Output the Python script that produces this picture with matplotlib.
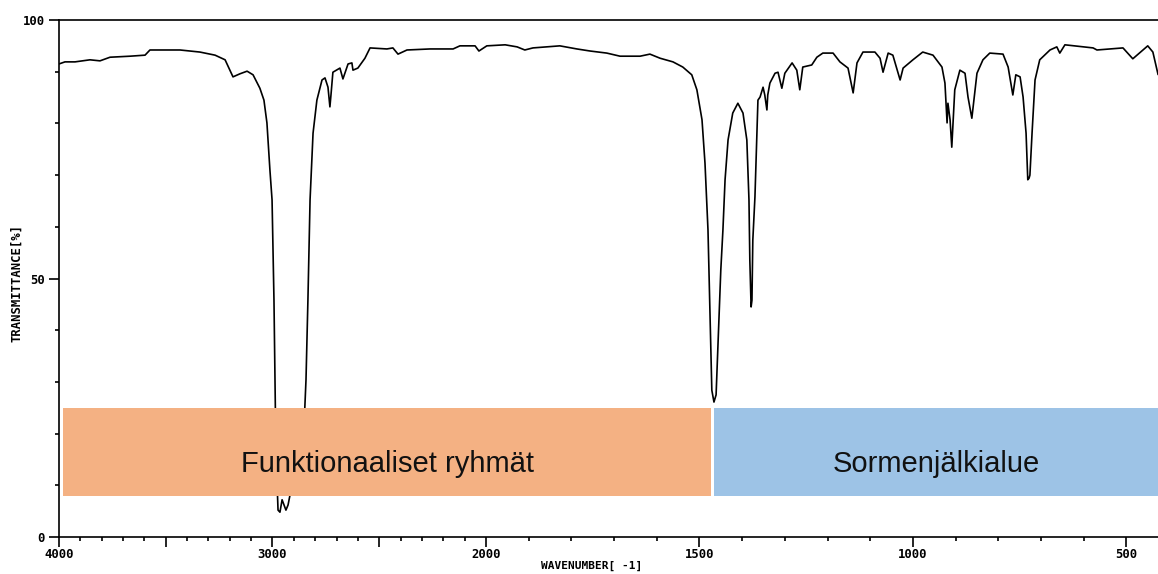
import numpy as np
import matplotlib
matplotlib.use("Agg")
import matplotlib.pyplot as plt
from matplotlib.patches import Rectangle
from matplotlib.ticker import FixedLocator, FixedFormatter

# IR spectrum (wavenumber in cm-1, transmittance %)
wavenumber = [
    4000, 3972, 3925, 3855, 3808, 3761, 3667, 3597, 3574, 3433, 3340, 3269,
    3222, 3185, 3152, 3119, 3091, 3059, 3040, 3026, 3012, 3002, 2993, 2984,
    2974, 2965, 2955, 2946, 2937, 2927, 2918, 2895, 2871, 2857, 2843, 2834,
    2824, 2810, 2792, 2768, 2754, 2740, 2731, 2726, 2717, 2684, 2670, 2646,
    2628, 2623, 2600, 2567, 2543, 2464, 2436, 2412, 2370, 2262, 2154, 2122,
    2051, 2033, 1998, 1955, 1927, 1909, 1890, 1827, 1787, 1756, 1717, 1686,
    1639, 1616, 1592, 1562, 1539, 1518, 1506, 1494, 1487, 1480, 1475, 1471,
    1466, 1461, 1457, 1450, 1445, 1440, 1433, 1422, 1410, 1398, 1389, 1384,
    1382, 1379, 1377, 1375, 1370, 1363, 1358, 1351, 1347, 1342, 1340, 1335,
    1323, 1316, 1307, 1300, 1283, 1272, 1265, 1258, 1237, 1225, 1211, 1187,
    1171, 1152, 1140, 1131, 1117, 1089, 1077, 1070, 1058, 1047, 1030, 1023,
    1000, 977, 953, 932, 925, 920, 918, 913, 909, 902, 890, 878, 871, 862,
    850, 836, 820, 789, 777, 766, 759, 749, 742, 735, 731, 728, 726, 721,
    714, 703, 679, 663, 656, 644, 578, 569, 508, 485, 450, 438, 426,
]
transmittance = [
    91.5, 91.9, 91.9, 92.3, 92.1, 92.8, 93.0, 93.2, 94.2, 94.2, 93.8, 93.2,
    92.3, 89.0, 89.6, 90.1, 89.4, 86.8, 84.5, 80.1, 71.0, 65.2, 45.8, 16.8,
    5.2, 4.8, 7.2, 6.2, 5.2, 6.2, 8.1, 13.0, 22.6, 16.8, 30.4, 45.8,
    65.2, 78.1, 84.5, 88.4, 88.8, 87.0, 83.2, 85.5, 89.9, 90.7, 88.6, 91.5,
    91.7, 90.3, 90.7, 92.6, 94.6, 94.4, 94.6, 93.4, 94.2, 94.4, 94.4, 95.0,
    95.0, 94.0, 95.0, 95.2, 94.8, 94.2, 94.6, 95.0, 94.4, 94.0, 93.6, 93.0,
    93.0, 93.4, 92.6, 91.9, 90.9, 89.4, 86.5, 80.7, 72.3, 59.4, 42.0, 28.4,
    26.1, 27.5, 36.2, 51.6, 59.4, 69.1, 76.8, 82.0, 83.9, 82.0, 76.8, 65.2,
    53.6, 44.5, 45.8, 57.4, 65.8, 84.5, 85.1, 87.0, 85.5, 82.6, 85.5, 87.8,
    89.7, 89.9, 86.8, 89.7, 91.7, 90.3, 86.5, 90.9, 91.3, 92.8, 93.6, 93.6,
    91.9, 90.7, 85.9, 91.7, 93.8, 93.8, 92.6, 89.9, 93.6, 93.2, 88.4, 90.7,
    92.3, 93.8, 93.2, 90.9, 87.8, 80.1, 83.9, 80.7, 75.4, 86.5, 90.3, 89.7, 85.1, 81.0,
    89.7, 92.3, 93.6, 93.4, 90.9, 85.5, 89.4, 89.0, 85.1, 78.1, 69.1, 69.4, 70.0, 78.1,
    88.4, 92.3, 94.2, 94.8, 93.6, 95.2, 94.6, 94.2, 94.6, 92.5, 95.0, 93.8, 89.5,
]

# regions marked under the spectrum
region_names = ["Funktionaaliset ryhmät", "Sormenjälkialue"]
region_from = [3981, 1466]
region_to = [1473, 426]
region_low, region_high = 8, 25
region_colors = ["#F4B183", "#9DC3E6"]

x_major = [4000, 3500, 3000, 2500, 2000, 1500, 1000, 500]
x_major_labels = ["4000", "", "3000", "", "2000", "1500", "1000", "500"]
y_major = [0, 50, 100]


# spectrometer chart: scale doubles below 2000 cm-1
def fwd(w):
    w = np.asarray(w, dtype=float)
    return np.where(w >= 2000, w, 2 * w - 2000)


def inv(u):
    u = np.asarray(u, dtype=float)
    return np.where(u >= 2000, u, (u + 2000) / 2)


mono = "DejaVu Sans Mono"

fig = plt.figure(figsize=(11.58, 5.74), dpi=100)
ax = fig.add_axes([59 / 1158, 1 - 537 / 574, 1099 / 1158, 517 / 574])
ax.set_xscale("function", functions=(fwd, inv))

ax.plot(wavenumber, transmittance, color="black", lw=1.2, zorder=1)

for name, a, b, c in zip(region_names, region_from, region_to, region_colors):
    ax.add_patch(Rectangle((a, region_low), b - a, region_high - region_low,
                           facecolor=c, edgecolor="none", zorder=2))
    mid = float(inv((fwd(a) + fwd(b)) / 2))
    ax.text(mid, 12.6, name, ha="center", va="baseline", fontsize=21,
            family="Liberation Sans", color="#111111", zorder=3)

ax.set_xlim(4000, 426)
ax.set_ylim(0, 100)

ax.xaxis.set_major_locator(FixedLocator(x_major))
ax.xaxis.set_major_formatter(FixedFormatter(x_major_labels))
ax.xaxis.set_minor_locator(FixedLocator([w for w in range(4000, 400, -100) if w not in x_major]))
ax.yaxis.set_major_locator(FixedLocator(y_major))
ax.yaxis.set_minor_locator(FixedLocator([10, 20, 30, 40, 60, 70, 80, 90]))

ax.tick_params(which="major", direction="out", length=7, width=1.2, color="black")
ax.tick_params(which="minor", direction="out", length=3, width=1.2, color="black")
ax.tick_params(axis="x", which="major", pad=1)
ax.tick_params(axis="y", which="major", pad=3)
for lab in ax.get_xticklabels() + ax.get_yticklabels():
    lab.set_family(mono)
    lab.set_fontsize(8.8)
    lab.set_fontweight("bold")

ax.spines["right"].set_visible(False)
for s in ["left", "bottom", "top"]:
    ax.spines[s].set_linewidth(1.2)

ax.set_xlabel("WAVENUMBER[ -1]", family=mono, fontsize=8, fontweight="bold")
ax.xaxis.set_label_coords(533 / 1099, -29 / 517)
ax.xaxis.label.set_va("center")
ax.set_ylabel("TRANSMITTANCE[%]", family=mono, fontsize=8.8, fontweight="bold")
ax.yaxis.set_label_coords(-42 / 1099, 254 / 517)
ax.yaxis.label.set_va("center")

fig.savefig("out.png", dpi=100)
